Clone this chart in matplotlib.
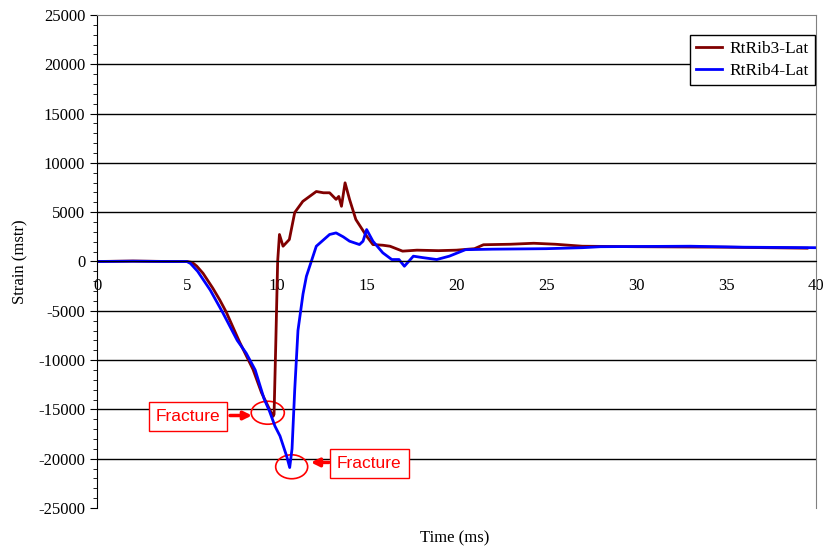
import numpy as np
import matplotlib.pyplot as plt
from matplotlib.patches import Ellipse
from matplotlib.ticker import MultipleLocator

# RtRib3-Lat (time in ms, strain)
t_rib3 = [0, 2, 4, 5, 5.3, 5.55, 5.9, 6.44, 6.83, 7.2, 7.94, 8.68, 9.15, 9.6, 9.8,
          9.85, 9.95, 10.05, 10.15, 10.35, 10.7, 11.0, 11.45, 12.2, 12.6, 12.94,
          13.3, 13.45, 13.6, 13.8, 14.05, 14.4, 15.0, 15.35, 15.9, 16.3, 17.0,
          17.8, 19.0, 20.0, 21.0, 21.5, 23.0, 24.3, 25.5, 27.0, 30.0, 35.0, 39.5]
s_rib3 = [0, 50, 0, 0, -100, -470, -1200, -2700, -3900, -5170, -8200, -10950,
          -13300, -15000, -15700, -15500, -8000, 0, 2740, 1550, 2230, 4970, 6100,
          7100, 6970, 6970, 6300, 6600, 5600, 7980, 6300, 4260, 2570, 1720, 1650,
          1550, 1050, 1150, 1100, 1150, 1300, 1700, 1750, 1850, 1750, 1550, 1500,
          1450, 1350]

# RtRib4-Lat
t_rib4 = [0, 2, 4, 5, 5.2, 5.6, 6.3, 7.0, 7.8, 8.3, 8.8, 9.29, 9.6, 9.9, 10.18,
          10.55, 10.72, 10.85, 11.0, 11.18, 11.46, 11.65, 12.2, 12.94, 13.3, 13.7,
          14.05, 14.6, 14.8, 15.0, 15.35, 15.9, 16.4, 16.8, 17.1, 17.6, 18.1,
          18.9, 19.6, 20.5, 22.0, 25.0, 27.0, 28.0, 33.0, 36.0, 40.0]
s_rib4 = [0, 30, 0, 0, -200, -1000, -2900, -5200, -8000, -9300, -11000, -13900,
          -15200, -16700, -17700, -19740, -20900, -19000, -13000, -7000, -3300,
          -1500, 1550, 2740, 2900, 2500, 2060, 1720, 2060, 3240, 2060, 880, 200,
          200, -480, 540, 400, 200, 540, 1200, 1250, 1300, 1400, 1500, 1550, 1450,
          1400]

serif = 'Liberation Serif'
plt.rcParams['axes.unicode_minus'] = False

fig = plt.figure(figsize=(8.27, 5.5), dpi=100)
ax = fig.add_axes([0.1173, 0.0764, 0.8694, 0.8963])

ax.plot(t_rib3, s_rib3, color='#800000', lw=2, label='RtRib3-Lat')
ax.plot(t_rib4, s_rib4, color='#0000FF', lw=2, label='RtRib4-Lat')

ax.set_xlim(0, 40)
ax.set_ylim(-25000, 25000)
ax.set_yticks(np.arange(-25000, 25001, 5000))
ax.yaxis.set_minor_locator(MultipleLocator(1000))
ax.set_xticks(np.arange(0, 41, 5))

# horizontal gridlines
for yv in np.arange(-20000, 20001, 5000):
    ax.axhline(yv, color='black', lw=1, zorder=0)

ax.spines['bottom'].set_position(('data', 0))
ax.spines['bottom'].set_color('black')
ax.spines['top'].set_color('#808080')
ax.spines['right'].set_color('#808080')
ax.spines['left'].set_color('black')
ax.tick_params(axis='x', length=0, pad=12, labelsize=12)
ax.tick_params(axis='y', which='major', length=5, labelsize=12)
ax.tick_params(axis='y', which='minor', length=3)
for lab in ax.get_xticklabels() + ax.get_yticklabels():
    lab.set_fontfamily(serif)

ax.set_xlabel('Time (ms)', fontfamily=serif, fontsize=12)
ax.set_ylabel('Strain (mstr)', fontfamily=serif, fontsize=12)
ax.xaxis.set_label_coords(0.498, -0.045)
ax.yaxis.set_label_coords(-0.095, 0.5)

leg = ax.legend(loc='upper right', bbox_to_anchor=(0.998, 0.96), borderaxespad=0,
                fancybox=False, edgecolor='black', framealpha=1, handlelength=1.5,
                handletextpad=0.4, borderpad=0.35, labelspacing=0.35,
                prop={'family': serif, 'size': 12.5})
leg.get_frame().set_linewidth(1)

# fracture markers
ax.add_patch(Ellipse((9.5, -15340), 1.84, 2330, fill=False, edgecolor='red', lw=1.2))
ax.add_patch(Ellipse((10.83, -20820), 1.78, 2430, fill=False, edgecolor='red', lw=1.2))

box = dict(boxstyle='square,pad=0.4', fc='white', ec='red', lw=1)
ax.text(5.06, -15720, 'Fracture', color='red', fontsize=12.5, family='Liberation Sans',
        ha='center', va='center', bbox=box)
ax.text(15.15, -20510, 'Fracture', color='red', fontsize=12.5, family='Liberation Sans',
        ha='center', va='center', bbox=box)
arr = dict(arrowstyle='-|>', color='red', lw=2.5, mutation_scale=12, shrinkA=0, shrinkB=0)
ax.annotate('', xy=(8.62, -15620), xytext=(7.4, -15620), arrowprops=arr)
ax.annotate('', xy=(11.9, -20380), xytext=(12.9, -20380), arrowprops=arr)

fig.savefig('out.png', dpi=100)
